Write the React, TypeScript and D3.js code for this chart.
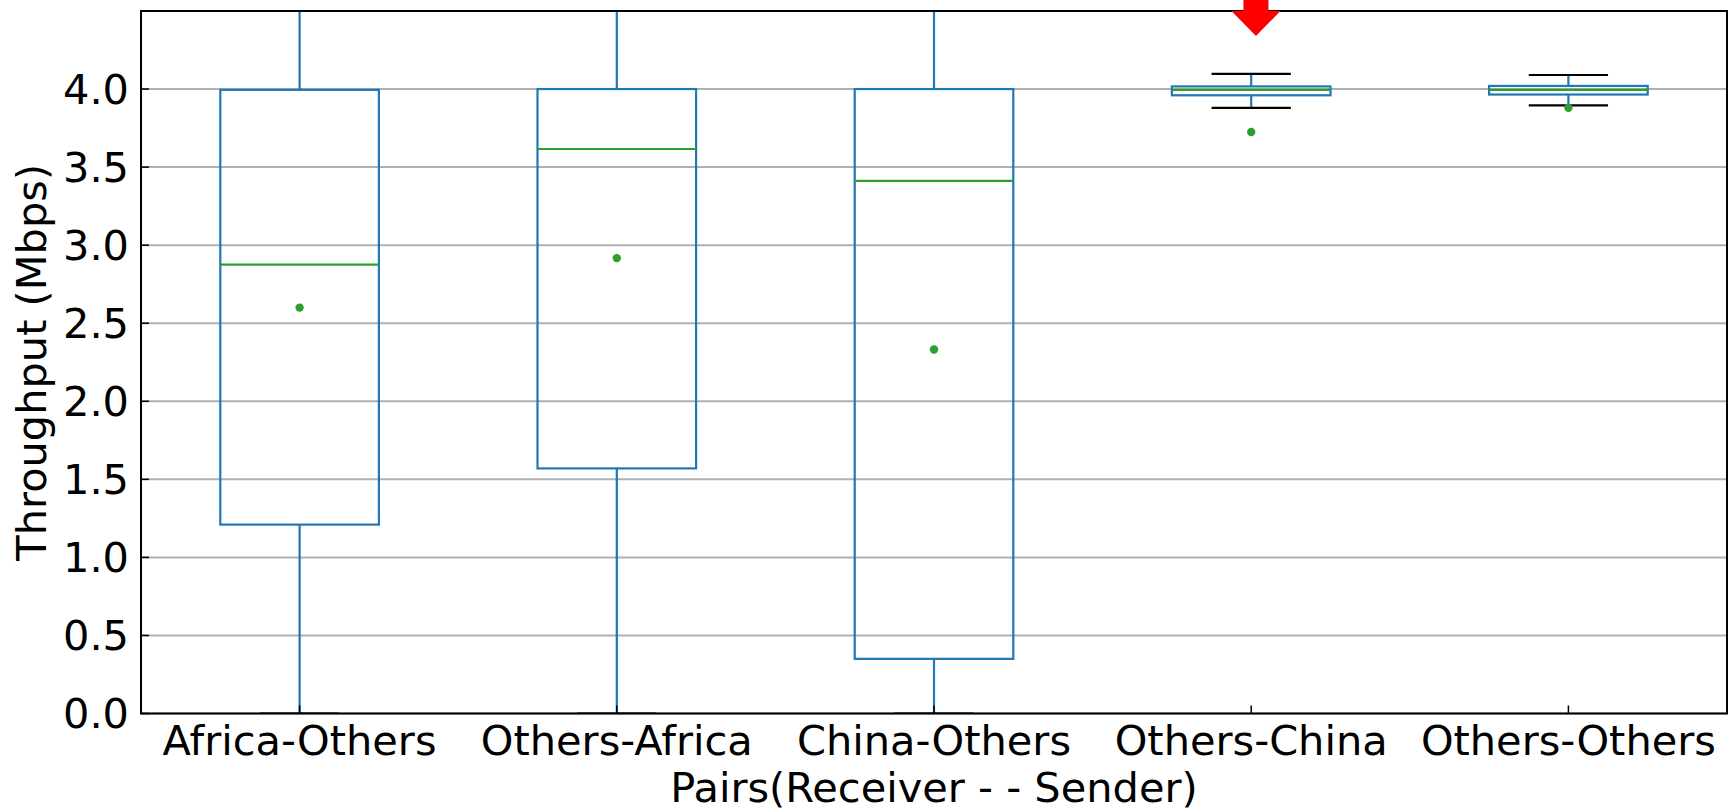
import React, { useEffect } from "react";
import * as d3 from "d3";

// Throughput distribution per receiver/sender pair
const categories = ["Africa-Others", "Others-Africa", "China-Others", "Others-China", "Others-Others"];
const q1 = [1.21, 1.57, 0.35, 3.96, 3.965];
const q3 = [3.995, 4.0, 4.0, 4.017, 4.02];
const medians = [2.875, 3.616, 3.412, 3.995, 3.995];
const means = [2.6, 2.917, 2.332, 3.725, 3.88];
const whiskerLow = [0, 0, 0, 3.88, 3.895];
const whiskerHigh = [6.1, 5.9, 6.3, 4.097, 4.09];
const yTicks = [0, 0.5, 1.0, 1.5, 2.0, 2.5, 3.0, 3.5, 4.0];

// highlight marker pointing at the Others-China box
const arrowX = 4.015;
const arrowTipY = 4.34;

const W = 1728;
const H = 812;
const left = 141;
const right = 1727;
const top = 11;
const bottom = 713.5;

const FONT = "'DejaVu Sans', sans-serif";
const FS = 41.5;
const BLUE = "#1f77b4";
const GREEN = "#2ca02c";
const LW = 2.2;

export default function App() {
  useEffect(() => {
    document.body.style.margin = "0";
    document.body.style.overflow = "hidden";
  }, []);

  const x = d3
    .scaleBand<string>()
    .domain(categories)
    .range([left, right])
    .paddingInner(0.5)
    .paddingOuter(0.25);
  const y = d3.scaleLinear().domain([0, 4.5]).range([bottom, top]);
  // numeric position (1..n) to pixel, for the annotation arrow
  const xNum = d3.scaleLinear().domain([0.5, categories.length + 0.5]).range([left, right]);

  const bw = x.bandwidth();
  const capHalf = bw / 4;

  const ax = xNum(arrowX);
  const tip = y(arrowTipY);
  const headLen = 25;
  const headHalf = 24.5;
  const shaftHalf = 12.5;
  const arrowPath = d3.path();
  arrowPath.moveTo(ax - shaftHalf, -5);
  arrowPath.lineTo(ax + shaftHalf, -5);
  arrowPath.lineTo(ax + shaftHalf, tip - headLen);
  arrowPath.lineTo(ax + headHalf, tip - headLen);
  arrowPath.lineTo(ax, tip);
  arrowPath.lineTo(ax - headHalf, tip - headLen);
  arrowPath.lineTo(ax - shaftHalf, tip - headLen);
  arrowPath.closePath();

  return (
    <svg
      width={W}
      height={H}
      viewBox={`0 0 ${W} ${H}`}
      style={{ display: "block", position: "absolute", left: 0, top: 0, background: "#fff" }}
    >
      <defs>
        <clipPath id="plot-area">
          <rect x={left} y={top} width={right - left} height={bottom - top} />
        </clipPath>
      </defs>
      <rect x={0} y={0} width={W} height={H} fill="#fff" />

      {/* horizontal grid */}
      <g>
        {yTicks.map((t) => (
          <line key={t} x1={left} x2={right} y1={y(t)} y2={y(t)} stroke="#b0b0b0" strokeWidth={2} />
        ))}
      </g>

      {/* boxes */}
      <g clipPath="url(#plot-area)">
        {categories.map((c, i) => {
          const x0 = x(c) as number;
          const cx = x0 + bw / 2;
          return (
            <g key={c}>
              <line x1={cx} x2={cx} y1={y(q1[i])} y2={y(whiskerLow[i])} stroke={BLUE} strokeWidth={LW} />
              <line x1={cx} x2={cx} y1={y(q3[i])} y2={y(whiskerHigh[i])} stroke={BLUE} strokeWidth={LW} />
              <line x1={cx - capHalf} x2={cx + capHalf} y1={y(whiskerLow[i])} y2={y(whiskerLow[i])} stroke="#000" strokeWidth={LW} />
              <line x1={cx - capHalf} x2={cx + capHalf} y1={y(whiskerHigh[i])} y2={y(whiskerHigh[i])} stroke="#000" strokeWidth={LW} />
              <rect
                x={x0}
                y={y(q3[i])}
                width={bw}
                height={y(q1[i]) - y(q3[i])}
                fill="none"
                stroke={BLUE}
                strokeWidth={LW}
              />
              <line x1={x0} x2={x0 + bw} y1={y(medians[i])} y2={y(medians[i])} stroke={GREEN} strokeWidth={LW} />
              <circle cx={cx} cy={y(means[i])} r={4.2} fill={GREEN} />
            </g>
          );
        })}
      </g>

      {/* ticks (inward) */}
      <g stroke="#000" strokeWidth={1.5}>
        {yTicks.map((t) => (
          <line key={t} x1={left} x2={left + 8} y1={y(t)} y2={y(t)} />
        ))}
        {categories.map((c) => {
          const cx = (x(c) as number) + bw / 2;
          return <line key={c} x1={cx} x2={cx} y1={bottom} y2={bottom - 8} />;
        })}
      </g>

      {/* spines */}
      <rect x={left} y={top} width={right - left} height={bottom - top} fill="none" stroke="#000" strokeWidth={2} />

      {/* tick labels */}
      <g fontFamily={FONT} fontSize={FS} fill="#000">
        {yTicks.map((t) => (
          <text key={t} x={129} y={y(t)} textAnchor="end" dominantBaseline="central">
            {t.toFixed(1)}
          </text>
        ))}
        {categories.map((c) => (
          <text key={c} x={(x(c) as number) + bw / 2} y={755} textAnchor="middle">
            {c}
          </text>
        ))}
      </g>

      {/* axis titles */}
      <text x={(left + right) / 2} y={802} textAnchor="middle" fontFamily={FONT} fontSize={FS} fill="#000">
        Pairs(Receiver - - Sender)
      </text>
      <text
        transform={`translate(46, ${(top + bottom) / 2}) rotate(-90)`}
        textAnchor="middle"
        fontFamily={FONT}
        fontSize={FS}
        fill="#000"
      >
        Throughput (Mbps)
      </text>

      {/* annotation arrow */}
      <path d={arrowPath.toString()} fill="#ff0000" />
    </svg>
  );
}
